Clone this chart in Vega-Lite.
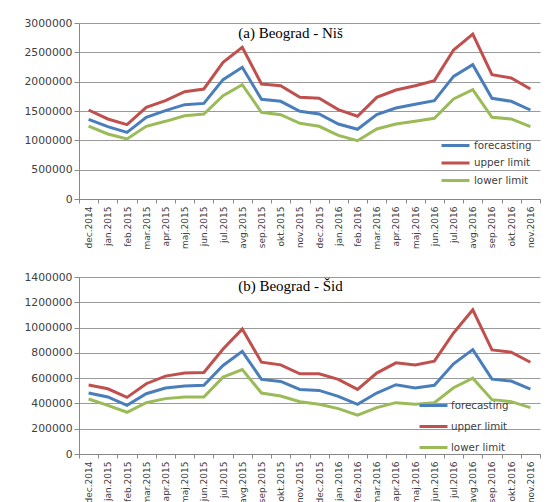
{
  "$schema": "https://vega.github.io/schema/vega-lite/v6.json",
  "background": "white",
  "padding": {"left": 23, "top": 17, "right": 5, "bottom": 0},
  "spacing": 22,
  "datasets": {
    "nis": [
      {"month": "dec.2014", "forecasting": 1358000, "upper limit": 1517000, "lower limit": 1244000},
      {"month": "jan.2015", "forecasting": 1233000, "upper limit": 1364000, "lower limit": 1108000},
      {"month": "feb.2015", "forecasting": 1136000, "upper limit": 1267000, "lower limit": 1023000},
      {"month": "mar.2015", "forecasting": 1392000, "upper limit": 1563000, "lower limit": 1239000},
      {"month": "apr.2015", "forecasting": 1506000, "upper limit": 1676000, "lower limit": 1324000},
      {"month": "maj.2015", "forecasting": 1608000, "upper limit": 1830000, "lower limit": 1420000},
      {"month": "jun.2015", "forecasting": 1630000, "upper limit": 1875000, "lower limit": 1449000},
      {"month": "jul.2015", "forecasting": 2034000, "upper limit": 2330000, "lower limit": 1760000},
      {"month": "avg.2015", "forecasting": 2244000, "upper limit": 2585000, "lower limit": 1949000},
      {"month": "sep.2015", "forecasting": 1699000, "upper limit": 1960000, "lower limit": 1477000},
      {"month": "okt.2015", "forecasting": 1665000, "upper limit": 1930000, "lower limit": 1438000},
      {"month": "nov.2015", "forecasting": 1494000, "upper limit": 1733000, "lower limit": 1290000},
      {"month": "dec.2015", "forecasting": 1449000, "upper limit": 1716000, "lower limit": 1239000},
      {"month": "jan.2016", "forecasting": 1278000, "upper limit": 1523000, "lower limit": 1085000},
      {"month": "feb.2016", "forecasting": 1188000, "upper limit": 1410000, "lower limit": 994000},
      {"month": "mar.2016", "forecasting": 1438000, "upper limit": 1733000, "lower limit": 1193000},
      {"month": "apr.2016", "forecasting": 1551000, "upper limit": 1858000, "lower limit": 1278000},
      {"month": "maj.2016", "forecasting": 1614000, "upper limit": 1930000, "lower limit": 1324000},
      {"month": "jun.2016", "forecasting": 1676000, "upper limit": 2017000, "lower limit": 1375000},
      {"month": "jul.2016", "forecasting": 2090000, "upper limit": 2540000, "lower limit": 1705000},
      {"month": "avg.2016", "forecasting": 2290000, "upper limit": 2810000, "lower limit": 1864000},
      {"month": "sep.2016", "forecasting": 1716000, "upper limit": 2120000, "lower limit": 1392000},
      {"month": "okt.2016", "forecasting": 1665000, "upper limit": 2063000, "lower limit": 1364000},
      {"month": "nov.2016", "forecasting": 1517000, "upper limit": 1875000, "lower limit": 1233000}
    ],
    "sid": [
      {"month": "dec.2014", "forecasting": 482000, "upper limit": 545000, "lower limit": 435000},
      {"month": "jan.2015", "forecasting": 451000, "upper limit": 516000, "lower limit": 385000},
      {"month": "feb.2015", "forecasting": 385000, "upper limit": 448000, "lower limit": 330000},
      {"month": "mar.2015", "forecasting": 477000, "upper limit": 556000, "lower limit": 406000},
      {"month": "apr.2015", "forecasting": 522000, "upper limit": 616000, "lower limit": 438000},
      {"month": "maj.2015", "forecasting": 537000, "upper limit": 640000, "lower limit": 451000},
      {"month": "jun.2015", "forecasting": 543000, "upper limit": 645000, "lower limit": 451000},
      {"month": "jul.2015", "forecasting": 700000, "upper limit": 831000, "lower limit": 608000},
      {"month": "avg.2015", "forecasting": 812000, "upper limit": 988000, "lower limit": 668000},
      {"month": "sep.2015", "forecasting": 590000, "upper limit": 726000, "lower limit": 482000},
      {"month": "okt.2015", "forecasting": 574000, "upper limit": 705000, "lower limit": 459000},
      {"month": "nov.2015", "forecasting": 511000, "upper limit": 634000, "lower limit": 414000},
      {"month": "dec.2015", "forecasting": 503000, "upper limit": 634000, "lower limit": 393000},
      {"month": "jan.2016", "forecasting": 456000, "upper limit": 590000, "lower limit": 359000},
      {"month": "feb.2016", "forecasting": 393000, "upper limit": 511000, "lower limit": 307000},
      {"month": "mar.2016", "forecasting": 482000, "upper limit": 640000, "lower limit": 367000},
      {"month": "apr.2016", "forecasting": 548000, "upper limit": 721000, "lower limit": 406000},
      {"month": "maj.2016", "forecasting": 522000, "upper limit": 705000, "lower limit": 393000},
      {"month": "jun.2016", "forecasting": 543000, "upper limit": 734000, "lower limit": 406000},
      {"month": "jul.2016", "forecasting": 713000, "upper limit": 957000, "lower limit": 524000},
      {"month": "avg.2016", "forecasting": 826000, "upper limit": 1140000, "lower limit": 600000},
      {"month": "sep.2016", "forecasting": 592000, "upper limit": 823000, "lower limit": 430000},
      {"month": "okt.2016", "forecasting": 577000, "upper limit": 805000, "lower limit": 414000},
      {"month": "nov.2016", "forecasting": 514000, "upper limit": 726000, "lower limit": 367000}
    ]
  },
  "config": {
    "view": {"stroke": null},
    "axisX": {
      "labelAngle": -90, "labelFont": "DejaVu Sans", "labelFontSize": 9, "labelColor": "#404040",
      "tickBand": "extent", "tickSize": 4, "tickColor": "#888888", "domainColor": "#888888",
      "labelPadding": 3, "grid": false, "title": null
    },
    "axisY": {
      "labelFont": "DejaVu Sans", "labelFontSize": 10.8, "labelColor": "#404040",
      "tickSize": 5, "tickColor": "#888888", "domainColor": "#888888", "labelPadding": 2,
      "grid": true, "gridColor": "#9a9a9a", "gridOpacity": 1, "title": null
    },
    "legend": {
      "orient": "none", "title": null, "symbolType": "M-1,0H6", "symbolSize": 64,
      "symbolStrokeWidth": 3, "labelFont": "DejaVu Sans", "labelFontSize": 10.3,
      "labelColor": "#404040", "labelOffset": 23
    },
    "title": {"font": "Liberation Serif", "fontSize": 15, "fontWeight": "normal", "color": "black", "frame": "group", "anchor": "middle"}
  },
  "resolve": {"scale": {"color": "independent"}, "legend": {"color": "independent"}},
  "vconcat": [
    {
      "width": 461, "height": 176,
      "data": {"name": "nis"},
      "transform": [{"fold": ["forecasting", "upper limit", "lower limit"], "as": ["series", "value"]}],
      "title": {"text": "(a) Beograd - Niš", "dx": -19, "dy": 28},
      "mark": {"type": "line", "strokeWidth": 3},
      "encoding": {
        "x": {"field": "month", "type": "ordinal", "sort": null, "bandPosition": 0.5,
              "scale": {"type": "band", "paddingInner": 0, "paddingOuter": 0}},
        "y": {"field": "value", "type": "quantitative", "scale": {"domain": [0, 3000000]},
              "axis": {"values": [0, 500000, 1000000, 1500000, 2000000, 2500000, 3000000], "format": "d"}},
        "color": {"field": "series", "type": "nominal",
                  "scale": {"domain": ["forecasting", "upper limit", "lower limit"], "range": ["#4a7ebb", "#c0504d", "#9bbb59"]},
                  "legend": {"legendX": 361, "legendY": 117, "rowPadding": 4.5}}
      }
    },
    {
      "width": 461, "height": 177,
      "data": {"name": "sid"},
      "transform": [{"fold": ["forecasting", "upper limit", "lower limit"], "as": ["series", "value"]}],
      "title": {"text": "(b) Beograd - Šid", "dx": -19, "dy": 27},
      "mark": {"type": "line", "strokeWidth": 3},
      "encoding": {
        "x": {"field": "month", "type": "ordinal", "sort": null, "bandPosition": 0.5,
              "scale": {"type": "band", "paddingInner": 0, "paddingOuter": 0}},
        "y": {"field": "value", "type": "quantitative", "scale": {"domain": [0, 1400000]},
              "axis": {"values": [0, 200000, 400000, 600000, 800000, 1000000, 1200000, 1400000], "format": "d"}},
        "color": {"field": "series", "type": "nominal",
                  "scale": {"domain": ["forecasting", "upper limit", "lower limit"], "range": ["#4a7ebb", "#c0504d", "#9bbb59"]},
                  "legend": {"legendX": 339, "legendY": 123, "rowPadding": 8, "labelOffset": 22}}
      }
    }
  ]
}
